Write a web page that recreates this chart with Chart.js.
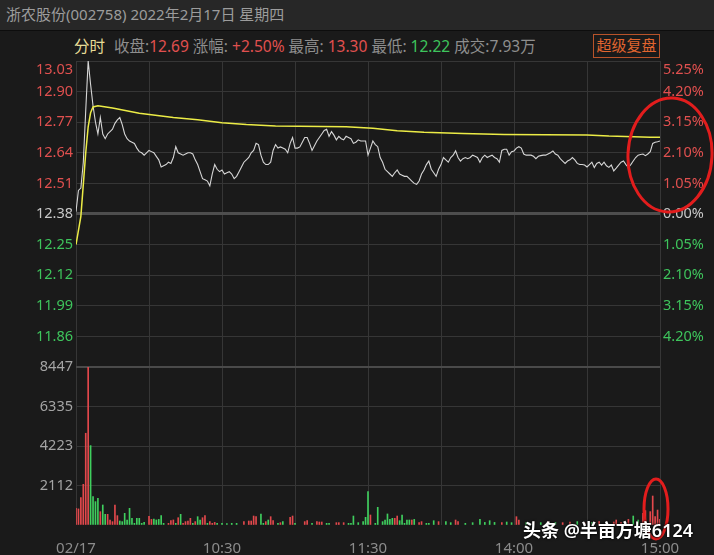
<!DOCTYPE html>
<html>
<head>
<meta charset="utf-8">
<script src="https://cdn.jsdelivr.net/npm/chart.js@4.4.1/dist/chart.umd.min.js"></script>
<style>
  body { margin: 0; background: #1a1a1a; }
  #tela { position: relative; width: 714px; height: 555px; overflow: hidden; background: #1a1a1a;
          font-family: "Noto Sans", "Noto Sans CJK SC", sans-serif; }
  #titulo { position: absolute; left: 0; top: 0; width: 714px; height: 31px; box-sizing: border-box;
            background: #272727; border-bottom: 1px solid #0d0d0d; color: #9c9c9c;
            font-size: 15px; line-height: 28px; padding-left: 6px; white-space: nowrap; }
  #info { position: absolute; left: 74px; top: 36px; font-size: 15.5px; line-height: 20px;
          color: #8e8e8e; white-space: nowrap; }
  #info .fs { color: #e6dc96; margin-right: 9px; }
  #info .r { color: #e0504f; }
  #info .g { color: #3ec45c; }
  #botao { position: absolute; left: 593px; top: 34px; width: 67px; height: 24px; box-sizing: border-box;
           border: 1px solid #b8532a; color: #e0652f; font-size: 15px; line-height: 21px; text-align: center; }
  #marca { position: absolute; left: 523px; top: 516px; color: #fff; font-size: 18px; font-weight: 600;
           white-space: nowrap; text-shadow: 0 0 3px #000, 0 0 2px #000; }
  #marca b { font-weight: 700; }
  canvas { position: absolute; left: 0; }
  #graficoPreco { top: 55px; }
  #graficoVolume { top: 360px; }
</style>
</head>
<body>
<div id="tela">
  <div id="titulo">浙农股份(002758) 2022年2月17日 星期四</div>
  <div id="info"><span class="fs">分时</span>收盘:<span class="r">12.69</span> 涨幅: <span class="r">+2.50%</span> 最高: <span class="r">13.30</span> 最低: <span class="g">12.22</span> 成交:7.93万</div>
  <div id="botao">超级复盘</div>
  <canvas id="graficoPreco" width="714" height="320"></canvas>
  <canvas id="graficoVolume" width="714" height="195"></canvas>
  <div id="marca"><b>头条</b> @半亩方塘6124</div>
</div>

<script>
// minutos de pregão: 0 = 09:30, 120 = 11:30/13:00, 240 = 15:00
const timeTicks = [0, 30, 60, 90, 120, 150, 180, 210, 240];
const timeLabels = ["02/17", "", "10:30", "", "11:30", "", "14:00", "", "15:00"];

const precoAbertura = 12.38; // fechamento anterior
const priceTicks = [13.03, 12.90, 12.77, 12.64, 12.51, 12.38, 12.25, 12.12, 11.99, 11.86];
const priceLabels = ["13.03", "12.90", "12.77", "12.64", "12.51", "12.38", "12.25", "12.12", "11.99", "11.86"];
const pctLabels = ["5.25%", "4.20%", "3.15%", "2.10%", "1.05%", "0.00%", "1.05%", "2.10%", "3.15%", "4.20%"];

// preço minuto a minuto (índice = minuto)
const priceValues = [
  12.39, 12.48, 12.49, 12.60, 12.82, 13.03, 12.93, 12.84, 12.77, 12.72,
  12.79, 12.72, 12.70, 12.72, 12.73, 12.74, 12.765, 12.78, 12.79, 12.76,
  12.72, 12.70, 12.69, 12.685, 12.68, 12.66, 12.645, 12.64, 12.63, 12.64,
  12.65, 12.645, 12.64, 12.625, 12.61, 12.58, 12.585, 12.59, 12.60, 12.595,
  12.62, 12.666, 12.64, 12.635, 12.63, 12.635, 12.64, 12.64, 12.635, 12.61,
  12.59, 12.56, 12.53, 12.525, 12.52, 12.50, 12.55, 12.59, 12.57, 12.56,
  12.567, 12.55, 12.555, 12.56, 12.55, 12.53, 12.54, 12.56, 12.58, 12.60,
  12.61, 12.62, 12.64, 12.65, 12.68, 12.675, 12.63, 12.60, 12.59, 12.59,
  12.60, 12.65, 12.675, 12.66, 12.665, 12.66, 12.655, 12.64, 12.68, 12.705,
  12.66, 12.66, 12.665, 12.685, 12.705, 12.705, 12.68, 12.65, 12.67, 12.69,
  12.705, 12.72, 12.735, 12.74, 12.71, 12.73, 12.715, 12.695, 12.71, 12.70,
  12.695, 12.71, 12.705, 12.70, 12.68, 12.685, 12.695, 12.69, 12.69, 12.69,
  12.63, 12.66, 12.69, 12.675, 12.666, 12.62, 12.60, 12.57, 12.56, 12.55,
  12.54, 12.555, 12.567, 12.55, 12.545, 12.54, 12.54, 12.53, 12.52, 12.51,
  12.506, 12.52, 12.55, 12.567, 12.59, 12.605, 12.57, 12.555, 12.54, 12.57,
  12.59, 12.62, 12.61, 12.60, 12.62, 12.63, 12.648, 12.62, 12.605, 12.615,
  12.62, 12.615, 12.62, 12.63, 12.625, 12.62, 12.60, 12.62, 12.63, 12.62,
  12.625, 12.63, 12.62, 12.615, 12.60, 12.65, 12.655, 12.655, 12.63, 12.645,
  12.648, 12.66, 12.666, 12.66, 12.635, 12.63, 12.63, 12.63, 12.625, 12.615,
  12.625, 12.628, 12.63, 12.63, 12.635, 12.64, 12.648, 12.635, 12.63, 12.615,
  12.605, 12.595, 12.605, 12.61, 12.62, 12.61, 12.595, 12.59, 12.59, 12.588,
  12.58, 12.59, 12.60, 12.577, 12.595, 12.60, 12.588, 12.60, 12.585, 12.578,
  12.588, 12.563, 12.575, 12.588, 12.60, 12.605, 12.59, 12.578, 12.59, 12.605,
  12.62, 12.63, 12.633, 12.635, 12.628, 12.635, 12.645, 12.68, 12.685, 12.687,
  12.69
];

// preço médio (linha amarela)
const avgMinutes = [0, 2, 4, 5, 6, 7, 9, 15, 26, 40, 50, 60, 70, 82, 111, 122, 132, 143, 159, 176, 210, 219, 236, 240];
const avgValues = [12.25, 12.37, 12.64, 12.75, 12.81, 12.835, 12.84, 12.83, 12.808, 12.79, 12.78, 12.768,
                   12.76, 12.754, 12.751, 12.744, 12.734, 12.727, 12.722, 12.718, 12.716, 12.711, 12.706, 12.706];

// volume (1 = alta/vermelho, 0 = baixa/verde)
const volTicks = [0, 2112, 4223, 6335, 8447];
const volMinutes = [
  0, 1, 2, 3, 4, 5, 6, 7, 8, 9, 10, 11, 12, 13, 14, 15, 16, 17, 18, 19, 20, 21, 22, 23, 24, 25, 26, 27, 28,
  30, 31, 32, 33, 34, 35, 36, 38, 39, 40, 41, 42, 43, 44, 45, 46, 47, 48, 49, 50, 51, 52, 53, 54, 55, 56, 57, 58,
  60, 62, 64, 66, 69, 71, 72, 73, 74, 76, 77, 78, 79, 80, 81, 83, 84, 85, 88, 89, 90, 94, 95, 97, 99, 100, 101,
  103, 104, 107, 108, 110, 112, 113, 114, 116, 118, 119, 120, 121, 123, 124, 126, 127, 128, 129, 130, 131, 132,
  133, 134, 135, 136, 137, 138, 139, 141, 142, 144, 145, 147, 149, 152, 154, 156, 157, 160, 163, 166, 168, 170,
  172, 175, 177, 179, 181, 182, 185, 188, 191, 194, 197, 200, 203, 206, 209, 212, 215, 218, 221, 222, 224, 227,
  229, 231, 233, 234, 236, 237, 238, 239, 240
];
const volValues = [
  890, 860, 1460, 2175, 4905, 8447, 4245, 1516, 1250, 1427, 713, 1070, 570, 570, 267, 180, 1070, 500, 214, 180, 625, 267, 890, 356, 90, 356, 356, 90, 140,
  463, 300, 320, 270, 300, 500, 90, 90, 230, 270, 90, 390, 570, 90, 180, 214, 356, 90, 180, 445, 267, 390, 500, 90, 180, 90, 140, 90,
  90, 70, 90, 90, 178, 214, 214, 480, 445, 590, 90, 180, 267, 445, 230, 90, 125, 180, 410, 480, 90, 180, 230, 90, 180, 160, 160,
  90, 90, 125, 125, 125, 90, 90, 480, 125, 180, 410, 1783, 535, 90, 945, 180, 267, 590, 300, 356, 356, 480,
  230, 535, 90, 267, 267, 267, 300, 125, 180, 90, 90, 230, 180, 180, 125, 267, 180, 90, 125, 300, 140, 230,
  140, 125, 160, 125, 445, 267, 125, 160, 125, 180, 140, 125, 160, 180, 125, 140, 180, 125, 160, 267, 140, 300,
  480, 267, 630, 770, 715, 1550, 445, 800, 300
];
const volUp = [
  1, 1, 1, 1, 1, 1, 0, 0, 0, 0, 1, 0, 0, 1, 1, 1, 1, 1, 0, 0, 0, 0, 0, 0, 0, 0, 0, 0, 0,
  1, 1, 0, 0, 0, 0, 0, 1, 1, 1, 0, 1, 0, 1, 1, 1, 1, 0, 1, 0, 0, 1, 1, 0, 1, 1, 1, 0,
  0, 0, 0, 0, 1, 1, 1, 1, 1, 0, 0, 1, 0, 1, 1, 0, 1, 0, 1, 1, 0, 1, 1, 0, 1, 1, 1,
  0, 0, 1, 1, 1, 0, 0, 0, 0, 0, 0, 0, 1, 0, 0, 0, 0, 0, 0, 0, 1, 1,
  0, 0, 0, 0, 0, 1, 0, 1, 1, 0, 0, 0, 1, 0, 0, 1, 1, 0, 0, 0, 0, 0,
  0, 1, 0, 0, 1, 1, 0, 1, 0, 1, 0, 1, 1, 0, 1, 0, 1, 0, 1, 1, 1, 1,
  0, 0, 1, 1, 1, 1, 1, 1, 1
];

const VERMELHO = "#e0504f";
const VERDE = "#3ec45c";
const GRADE = "#363636";

Chart.defaults.font.family = '"Noto Sans", "Noto Sans CJK SC", sans-serif';
Chart.defaults.animation = false;

function semPadding(s) {
  s.paddingTop = 0; s.paddingBottom = 0; s.paddingLeft = 0; s.paddingRight = 0;
}

function corPreco(v) {
  if (v > precoAbertura + 0.001) return VERMELHO;
  if (v < precoAbertura - 0.001) return VERDE;
  return "#c8c8c8";
}

// círculos vermelhos desenhados à mão no print original
const circulos = {
  id: "circulos",
  afterDraw(chart, args, opts) {
    const ctx = chart.ctx;
    ctx.save();
    ctx.strokeStyle = "#e21d1d";
    ctx.lineWidth = 3;
    opts.elipses.forEach(e => {
      ctx.beginPath();
      ctx.ellipse(e[0], e[1], e[2], e[3], e[4], 0, Math.PI * 2);
      ctx.stroke();
    });
    ctx.restore();
  }
};

const eixoTempo = (mostrarRotulos) => ({
  type: "linear",
  min: 0,
  max: 240,
  offset: false,
  afterBuildTicks: s => { s.ticks = timeTicks.map(v => ({ value: v })); },
  afterFit: s => { s.height = mostrarRotulos ? 30 : 0; semPadding(s); },
  border: { display: false },
  grid: { color: GRADE, lineWidth: 1, drawTicks: false, offset: false },
  ticks: {
    display: mostrarRotulos,
    autoSkip: false,
    maxRotation: 0,
    padding: 15,
    color: "#8c8c8c",
    font: { size: 15 },
    callback: v => timeLabels[timeTicks.indexOf(v)]
  }
});

// gráfico de preço
new Chart(document.getElementById("graficoPreco"), {
  type: "line",
  data: {
    datasets: [
      {
        label: "均价",
        data: avgMinutes.map((m, i) => ({ x: m, y: avgValues[i] })),
        borderColor: "#ecec46",
        borderWidth: 1.5,
        pointRadius: 0,
        tension: 0
      },
      {
        label: "价格",
        data: priceValues.map((p, i) => ({ x: i, y: p })),
        borderColor: "#d6d6d6",
        borderWidth: 1.1,
        pointRadius: 0,
        tension: 0
      }
    ]
  },
  options: {
    responsive: false,
    layout: { padding: { top: 6, bottom: 8, left: 0, right: 0 } },
    plugins: {
      legend: { display: false },
      tooltip: { enabled: false },
      circulos: { elipses: [[670, 100, 42, 57, 0.05]] }
    },
    scales: {
      x: eixoTempo(false),
      y: {
        position: "left",
        min: 11.73,
        max: 13.03,
        afterBuildTicks: s => { s.ticks = priceTicks.slice().reverse().map(v => ({ value: v })); },
        afterFit: s => { s.width = 76; semPadding(s); },
        border: { display: false },
        grid: {
          drawTicks: false,
          color: c => c.tick && c.tick.value === precoAbertura ? "#4e4e4e" : GRADE,
          lineWidth: c => c.tick && c.tick.value === precoAbertura ? 3 : 1
        },
        ticks: {
          autoSkip: false,
          padding: 3,
          font: { size: 14.5 },
          color: c => corPreco(c.tick.value),
          callback: v => {
            const i = priceTicks.indexOf(v);
            return i === 0 ? ["", priceLabels[i]] : priceLabels[i];
          }
        }
      },
      y2: {
        position: "right",
        min: 11.73,
        max: 13.03,
        afterBuildTicks: s => { s.ticks = priceTicks.slice().reverse().map(v => ({ value: v })); },
        afterFit: s => { s.width = 54; semPadding(s); },
        border: { display: false },
        grid: { display: false, drawTicks: false },
        ticks: {
          autoSkip: false,
          padding: 3,
          font: { size: 14.5 },
          color: c => corPreco(c.tick.value),
          callback: v => {
            const i = priceTicks.indexOf(v);
            return i === 0 ? ["", pctLabels[i]] : pctLabels[i];
          }
        }
      }
    }
  },
  plugins: [circulos]
});

// gráfico de volume
new Chart(document.getElementById("graficoVolume"), {
  type: "bar",
  data: {
    datasets: [{
      label: "成交量",
      data: volMinutes.map((m, i) => ({ x: m, y: volValues[i] })),
      backgroundColor: volUp.map(u => u ? "#e2484c" : "#3fcf5e"),
      barThickness: 1,
      grouped: false
    }]
  },
  options: {
    responsive: false,
    layout: { padding: { top: 7, bottom: 0, left: 0, right: 54 } },
    plugins: {
      legend: { display: false },
      tooltip: { enabled: false },
      circulos: { elipses: [[656, 149, 12, 30, 0]] }
    },
    scales: {
      x: eixoTempo(true),
      y: {
        position: "left",
        min: 0,
        max: 8447,
        afterBuildTicks: s => { s.ticks = volTicks.map(v => ({ value: v })); },
        afterFit: s => { s.width = 76; semPadding(s); },
        border: { display: false },
        grid: {
          drawTicks: false,
          color: c => !c.tick || c.tick.value === 0 ? "rgba(0,0,0,0)" : (c.tick.value === 8447 ? "#4a4a4a" : GRADE),
          lineWidth: c => c.tick && c.tick.value === 8447 ? 2 : 1
        },
        ticks: {
          autoSkip: false,
          padding: 3,
          font: { size: 14.5 },
          color: "#a4a4a4",
          callback: v => v === 0 ? "" : String(v)
        }
      }
    }
  },
  plugins: [circulos]
});
</script>
</body>
</html>
